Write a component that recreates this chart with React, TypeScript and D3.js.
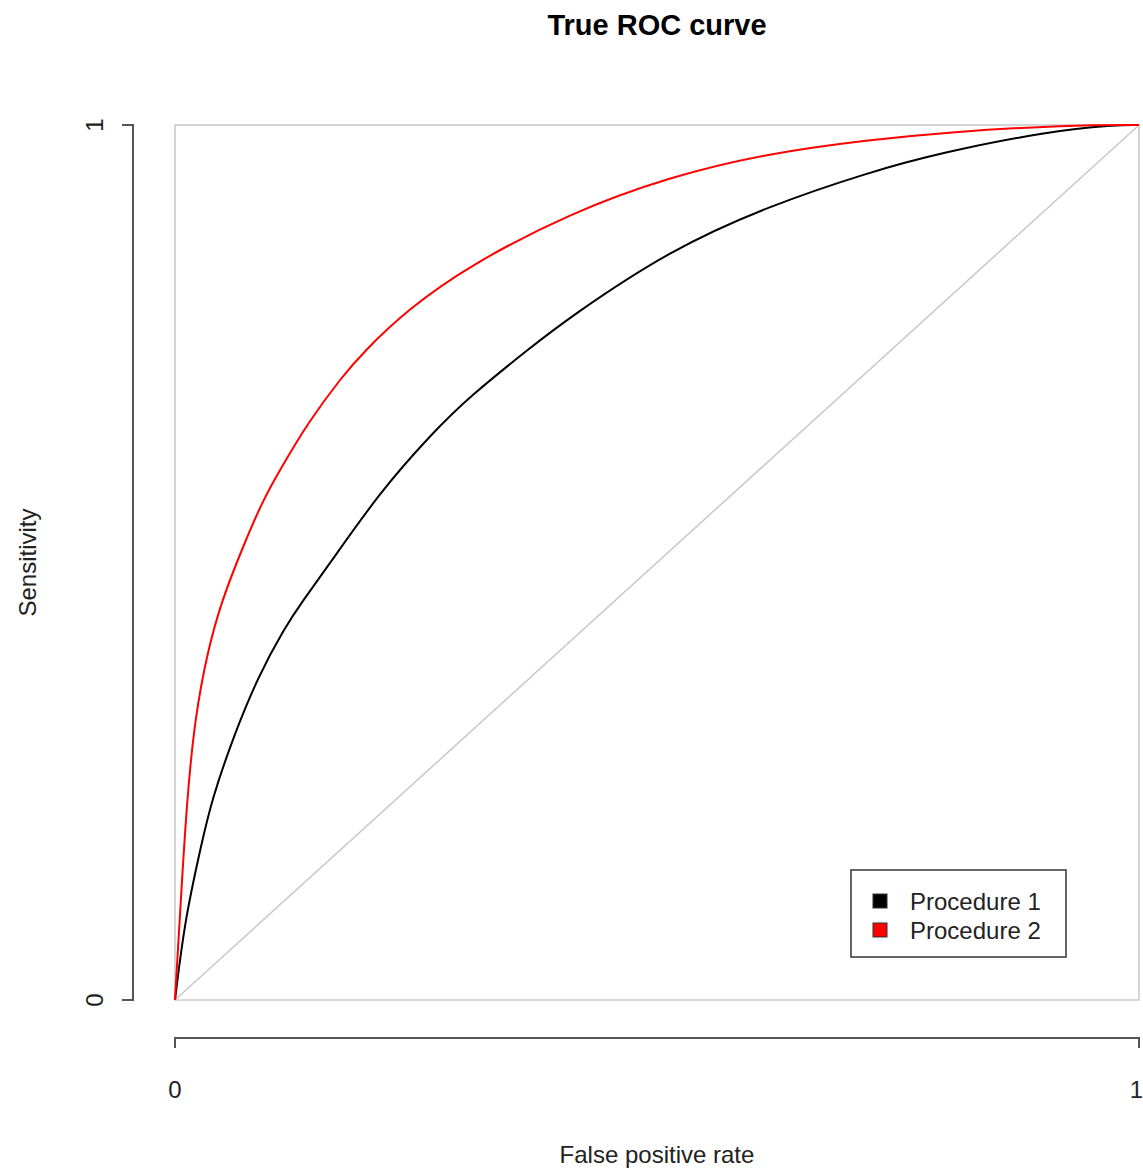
import * as d3 from "d3";
import React from "react";

const proc1Fpr = [0, 0.01, 0.026, 0.038, 0.062, 0.086, 0.114, 0.133, 0.155, 0.212, 0.267, 0.306, 0.368, 0.409, 0.513, 0.617, 0.72, 0.793, 0.907, 0.974, 1];
const proc1Tpr = [0, 0.09, 0.171, 0.229, 0.305, 0.369, 0.426, 0.457, 0.49, 0.58, 0.648, 0.69, 0.745, 0.78, 0.857, 0.908, 0.946, 0.968, 0.993, 1, 1];
const proc2Fpr = [0, 0.006, 0.0124, 0.0207, 0.034, 0.0487, 0.069, 0.091, 0.109, 0.138, 0.173, 0.195, 0.241, 0.306, 0.409, 0.513, 0.617, 0.72, 0.803, 0.925, 1];
const proc2Tpr = [0, 0.114, 0.229, 0.323, 0.4, 0.457, 0.514, 0.571, 0.606, 0.66, 0.712, 0.74, 0.789, 0.84, 0.899, 0.941, 0.968, 0.983, 0.992, 1, 1];
const legendLabels = ["Procedure 1", "Procedure 2"];
const colors = ["black", "#ff0000"];

const W = 1143, H = 1172;
const font = "Liberation Sans, Arial, sans-serif";

export default function App() {
  const x = d3.scaleLinear().domain([0, 1]).range([175, 1139]);
  const y = d3.scaleLinear().domain([0, 1]).range([1000, 125]);
  // basis smooths out reading noise in the traced points
  const line = d3
    .line<[number, number]>()
    .x((d) => x(d[0]))
    .y((d) => y(d[1]))
    .curve(d3.curveBasis);
  const series = [
    d3.zip(proc1Fpr, proc1Tpr) as [number, number][],
    d3.zip(proc2Fpr, proc2Tpr) as [number, number][],
  ];

  return (
    <svg width={W} height={H} style={{ position: "fixed", left: 0, top: 0 }} fontFamily={font}>
      <rect width={W} height={H} fill="white" />
      <text x={657} y={35} textAnchor="middle" fontSize={29} fontWeight="bold">
        True ROC curve
      </text>
      <rect x={x(0)} y={y(1)} width={x(1) - x(0)} height={y(0) - y(1)} fill="none" stroke="#c8c8c8" strokeWidth={1.5} />
      <line x1={x(0)} y1={y(0)} x2={x(1)} y2={y(1)} stroke="#c8c8c8" strokeWidth={1.5} />
      {series.map((s, i) => (
        <path key={i} d={line(s)!} fill="none" stroke={colors[i]} strokeWidth={2} />
      ))}
      {/* y axis */}
      <path d={`M122,${y(1)}H133V${y(0)}H122`} fill="none" stroke="#555" strokeWidth={2} />
      {[0, 1].map((t) => (
        <text key={t} transform={`translate(103,${y(t)}) rotate(-90)`} textAnchor="middle" fontSize={24} fill="#222">
          {t}
        </text>
      ))}
      <text transform={`translate(36,${y(0.5)}) rotate(-90)`} textAnchor="middle" fontSize={24} fill="#222">
        Sensitivity
      </text>
      {/* x axis */}
      <path d={`M${x(0)},1048V1038H${x(1)}V1048`} fill="none" stroke="#555" strokeWidth={2} />
      {[0, 1].map((t) => (
        <text key={t} x={x(t)} y={1098} textAnchor={t === 1 ? "end" : "middle"} dx={t === 1 ? 4 : 0} fontSize={24} fill="#222">
          {t}
        </text>
      ))}
      <text x={657} y={1163} textAnchor="middle" fontSize={24} fill="#222">
        False positive rate
      </text>
      {/* legend */}
      <rect x={851} y={870} width={215} height={87} fill="white" stroke="#333" strokeWidth={1.5} />
      {legendLabels.map((l, i) => (
        <g key={l} transform={`translate(873,${901 + i * 29})`}>
          <rect x={0} y={-7} width={14} height={14} fill={colors[i]} stroke="#333" />
          <text x={37} y={9} fontSize={24} fill="#222">{l}</text>
        </g>
      ))}
    </svg>
  );
}
